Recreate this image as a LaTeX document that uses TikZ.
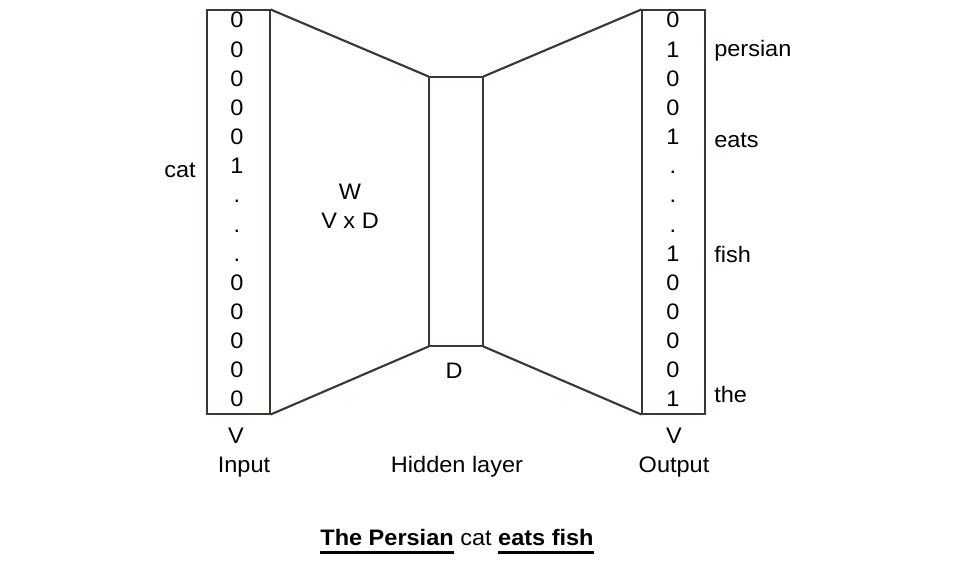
\documentclass[tikz,border=0pt]{standalone}
\usepackage{fontspec}
\setmainfont[FakeStretch=1.05]{Liberation Sans}
\newcommand{\myul}[1]{{\setbox0\hbox{#1}\rlap{\rule[-6.5pt]{\wd0}{2.6pt}}\box0}}
\begin{document}
\begin{tikzpicture}[x=0.75pt,y=-0.75pt,
  every node/.style={font=\fontsize{16.8}{19}\selectfont, text=black, inner sep=0pt},
  layerbox/.style={draw=edgecol, line width=0.8pt, minimum width=47.25pt},
  conn/.style={draw=edgecol, line width=1.6pt},
  lbl/.style={anchor=center},
  digit/.style={anchor=base}]
\definecolor{edgecol}{RGB}{64,54,48}
\useasboundingbox (0,0) rectangle (955,566);
% boxes
\node[layerbox, minimum height=303pt] (in) at (238.5,212) {};
\node[layerbox, minimum width=40.5pt, minimum height=201.75pt] (hid) at (456,211.5) {};
\node[layerbox, minimum height=303pt] (out) at (673.5,212) {};
% connectors
\draw[conn] (in.north east) -- (hid.north west);
\draw[conn] (in.south east) -- (hid.south west);
\draw[conn] (hid.north east) -- (out.north west);
\draw[conn] (hid.south east) -- (out.south west);
% input digits
\foreach \t [count=\i from 0] in {0,0,0,0,0,1,.,.,.,0,0,0,0,0}
  \node[digit] (i\i) at (237,{28+29.15*\i}) {\t};
\foreach \t [count=\i from 0] in {0,1,0,0,1,.,.,.,1,0,0,0,0,1}
  \node[digit] (o\i) at (673,{28+29.15*\i}) {\t};
% word labels
\node[lbl] (cat) at (180,170) {cat};
\node[anchor=west] (persian) at (714,51) {persian};
\node[anchor=west] (eats) at (714,140) {eats};
\node[anchor=west] (fish) at (714,254) {fish};
\node[anchor=west] (the) at (714,394) {the};
% other labels
\node[lbl] (w) at (350,192) {W};
\node[lbl] (vxd) at (350,221) {V x D};
\node[lbl] (d) at (454,371) {D};
\node[lbl] (vin) at (236,436) {V};
\node[lbl] (input) at (244,467) {Input};
\node[lbl] (hidden) at (457,467) {Hidden layer};
\node[lbl] (vout) at (674,436) {V};
\node[lbl] (output) at (674,467) {Output};
\node[lbl] (title) at (457,542) {\myul{\textbf{The Persian}} cat \myul{\textbf{eats fish}}};
\end{tikzpicture}
\end{document}
